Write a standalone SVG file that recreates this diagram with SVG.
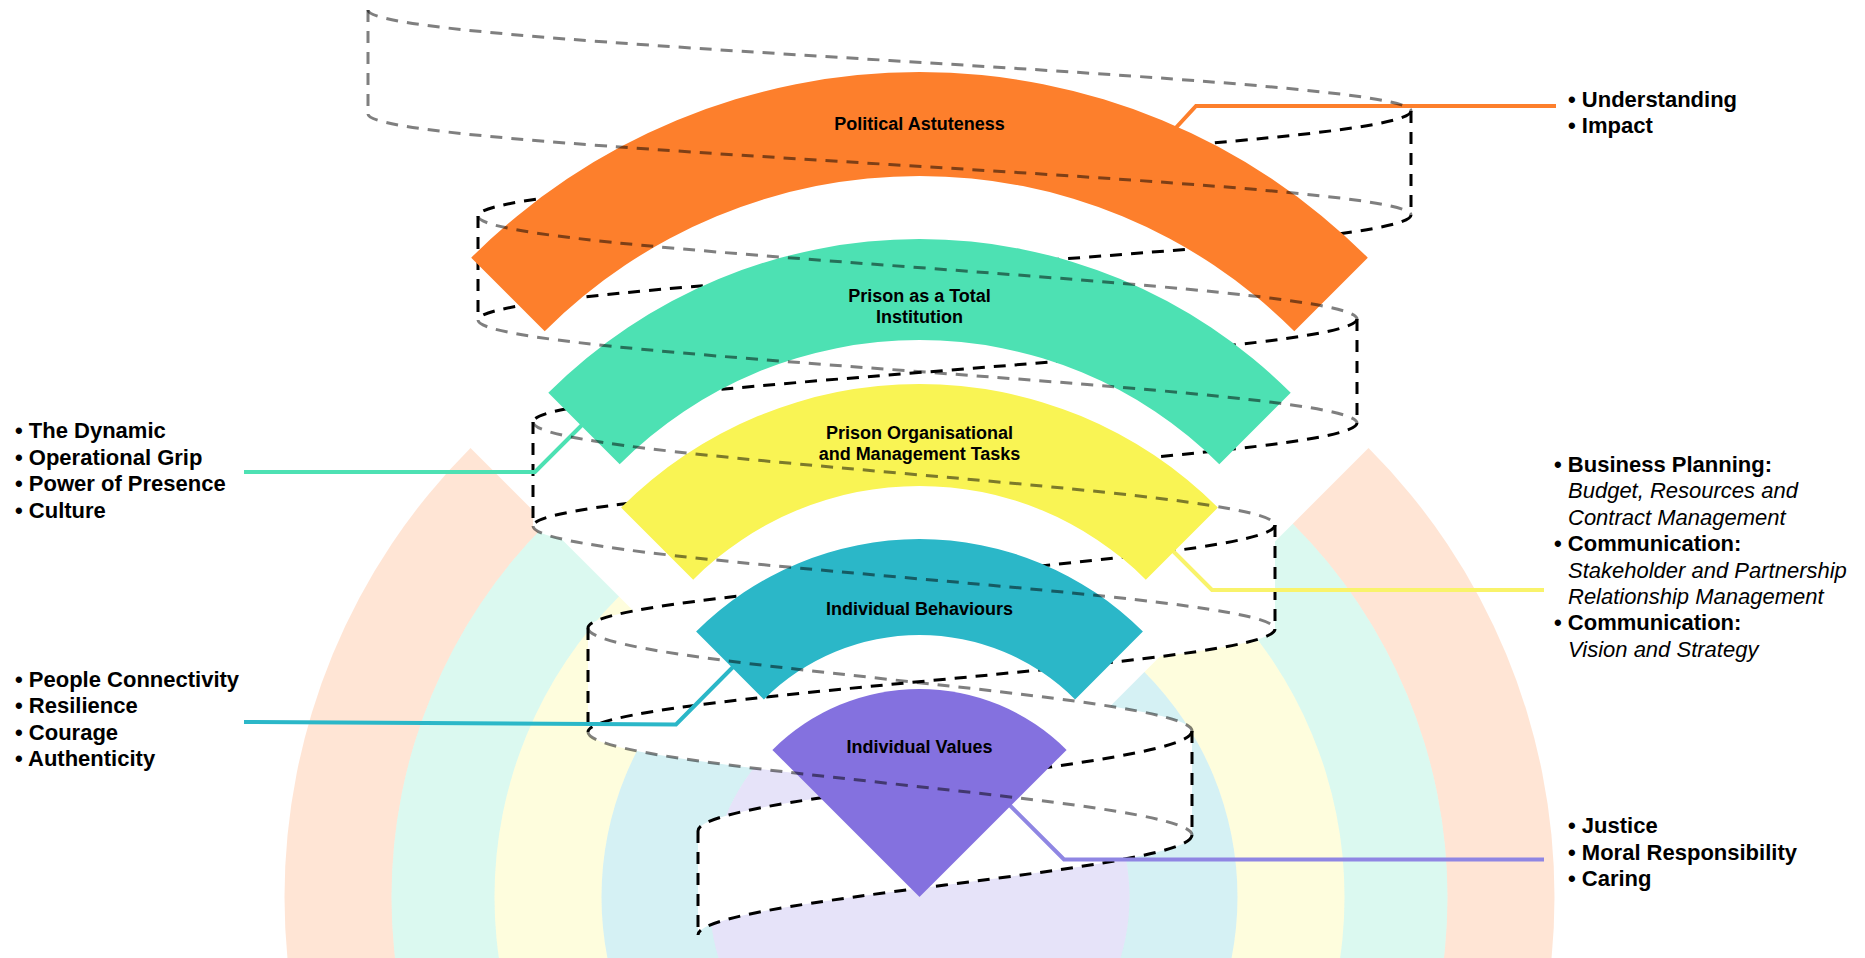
<svg xmlns="http://www.w3.org/2000/svg" width="1865" height="958" viewBox="0 0 1865 958">
<style>
.bg{fill-opacity:0.2}
.strip{fill:#ffffff}
.front{fill:none;stroke:#000;stroke-width:3;stroke-dasharray:12 9}
.back{fill:none;stroke:#000;stroke-opacity:0.5;stroke-width:3;stroke-dasharray:12 9}
.conn{fill:none;stroke-width:4}
.lbl{font-family:"Liberation Sans",Arial,sans-serif;font-weight:bold;font-size:18px;text-anchor:middle;fill:#000}
.side{font-family:"Liberation Sans",Arial,sans-serif;font-size:22px;fill:#000}
.b{font-weight:bold}
.i{font-style:italic}
.c-or{fill:#FD7F2C}.c-gr{fill:#4DE1B3}.c-ye{fill:#F9F454}.c-te{fill:#2BB7C8}.c-pu{fill:#8471DF}
</style>
<rect width="1865" height="958" fill="#ffffff"/>
<g id="background">
<path class="bg c-or" d="M1368.5,448 A635,635 0 1 1 470.5,448 L546.2,523.7 A528,528 0 1 0 1292.8,523.7 Z"/>
<path class="bg c-gr" d="M1292.8,523.7 A528,528 0 1 1 546.2,523.7 L619,596.5 A425,425 0 1 0 1220,596.5 Z"/>
<path class="bg c-ye" d="M1220,596.5 A425,425 0 1 1 619,596.5 L694.6,672.1 A318,318 0 1 0 1144.4,672.1 Z"/>
<path class="bg c-te" d="M1144.4,672.1 A318,318 0 1 1 694.6,672.1 L771,748.5 A210,210 0 1 0 1068,748.5 Z"/>
<path class="bg c-pu" d="M919.5,897 L1068,748.5 A210,210 0 0 1 1068,1045.5 Z"/>
<path class="bg c-pu" d="M919.5,897 L1068,1045.5 A210,210 0 0 1 771,1045.5 Z"/>
<path class="bg c-pu" d="M919.5,897 L771,1045.5 A210,210 0 0 1 771,748.5 Z"/>
</g>
<g id="helix-fill">
<path class="strip" d="M368,10 C368,28.3 622.3,44 889.5,60.5 C1156.7,77 1411,92.7 1411,111 L1411,215 C1411,196.7 1156.7,181 889.5,164.5 C622.3,148 368,132.3 368,114 Z"/>
<path class="strip" d="M1411,111 C1411,130 1183.5,146.4 944.5,163.5 C705.5,180.6 478,197 478,216 L478,320 C478,301 705.5,284.6 944.5,267.5 C1183.5,250.4 1411,234 1411,215 Z"/>
<path class="strip" d="M478,216 C478,234.6 692.3,250.7 917.5,267.5 C1142.7,284.3 1357,300.4 1357,319 L1357,423 C1357,404.4 1142.7,388.3 917.5,371.5 C692.3,354.7 478,338.6 478,320 Z"/>
<path class="strip" d="M1357,319 C1357,337.6 1156.1,353.7 945,370.5 C733.9,387.3 533,403.4 533,422 L533,526 C533,507.4 733.9,491.3 945,474.5 C1156.1,457.7 1357,441.6 1357,423 Z"/>
<path class="strip" d="M533,422 C533,440.6 713.9,456.7 904,473.5 C1094.1,490.3 1275,506.4 1275,525 L1275,629 C1275,610.4 1094.1,594.3 904,577.5 C713.9,560.7 533,544.6 533,526 Z"/>
<path class="strip" d="M1275,525 C1275,543.6 1107.5,559.7 931.5,576.5 C755.5,593.3 588,609.4 588,628 L588,732 C588,713.4 755.5,697.3 931.5,680.5 C1107.5,663.7 1275,647.6 1275,629 Z"/>
<path class="strip" d="M588,628 C588,646.6 735.3,662.7 890,679.5 C1044.7,696.3 1192,712.4 1192,731 L1192,835 C1192,816.4 1044.7,800.3 890,783.5 C735.3,766.7 588,750.6 588,732 Z"/>
<path class="strip" d="M1192,731 C1192,749.1 1071.5,764.7 945,781 C818.5,797.3 698,812.9 698,831 L698,935 C698,916.9 818.5,901.3 945,885 C1071.5,868.7 1192,853.1 1192,835 Z"/>
</g>
<g id="helix-front">
<path class="front" d="M1411,111 C1411,130 1183.5,146.4 944.5,163.5 C705.5,180.6 478,197 478,216"/>
<path class="front" d="M1411,215 C1411,234 1183.5,250.4 944.5,267.5 C705.5,284.6 478,301 478,320"/>
<path class="front" d="M1357,319 C1357,337.6 1156.1,353.7 945,370.5 C733.9,387.3 533,403.4 533,422"/>
<path class="front" d="M1357,423 C1357,441.6 1156.1,457.7 945,474.5 C733.9,491.3 533,507.4 533,526"/>
<path class="front" d="M1275,525 C1275,543.6 1107.5,559.7 931.5,576.5 C755.5,593.3 588,609.4 588,628"/>
<path class="front" d="M1275,629 C1275,647.6 1107.5,663.7 931.5,680.5 C755.5,697.3 588,713.4 588,732"/>
<path class="front" d="M1192,731 C1192,749.1 1071.5,764.7 945,781 C818.5,797.3 698,812.9 698,831"/>
<path class="front" d="M1192,835 C1192,853.1 1071.5,868.7 945,885 C818.5,901.3 698,916.9 698,935"/>
<path class="front" d="M1411,111 V215 M478,216 V320 M1357,319 V423 M533,422 V526 M1275,525 V629 M588,628 V732 M1192,731 V835 M698,831 V935"/>
</g>
<g id="connectors">
<path class="conn" stroke="#FD7F2C" d="M1556,106 L1196,106 L1172,132"/>
<path class="conn" stroke="#4DE1B3" d="M244,472 L535,472 L586,421"/>
<path class="conn" stroke="#F9F36B" d="M1544,590 L1212,590 L1168,546"/>
<path class="conn" stroke="#2BB7C8" d="M244,722 L676,724.5 L734,666"/>
<path class="conn" stroke="#8F86E3" d="M1544,859.5 L1064,859.5 L1000,795.5"/>
</g>
<g id="node-political-astuteness">
<path class="c-or" d="M471.2,257.7 A634,634 0 0 1 1367.8,257.7 L1294.3,331.2 A530,530 0 0 0 544.7,331.2 Z"/>
<text class="lbl" x="919.5" y="130">Political Astuteness</text>
<text class="side b" x="1568" y="106.7">• Understanding</text>
<text class="side b" x="1568" y="133.1">• Impact</text>
</g>
<g id="node-total-institution">
<path class="c-gr" d="M548.3,392.8 A525,525 0 0 1 1290.7,392.8 L1219.3,464.2 A424,424 0 0 0 619.7,464.2 Z"/>
<text class="lbl" x="919.5" y="302">Prison as a Total</text>
<text class="lbl" x="919.5" y="323">Institution</text>
<text class="side b" x="15" y="438.3">• The Dynamic</text>
<text class="side b" x="15" y="464.7">• Operational Grip</text>
<text class="side b" x="15" y="491.1">• Power of Presence</text>
<text class="side b" x="15" y="517.5">• Culture</text>
</g>
<g id="node-organisational-tasks">
<path class="c-ye" d="M621.1,507.6 A422,422 0 0 1 1217.9,507.6 L1145.8,579.7 A320,320 0 0 0 693.2,579.7 Z"/>
<text class="lbl" x="919.5" y="438.5">Prison Organisational</text>
<text class="lbl" x="919.5" y="460">and Management Tasks</text>
<text class="side b" x="1554" y="472">• Business Planning:</text>
<text class="side i" x="1568" y="498.4">Budget, Resources and</text>
<text class="side i" x="1568" y="524.8">Contract Management</text>
<text class="side b" x="1554" y="551.2">• Communication:</text>
<text class="side i" x="1568" y="577.6">Stakeholder and Partnership</text>
<text class="side i" x="1568" y="604">Relationship Management</text>
<text class="side b" x="1554" y="630.4">• Communication:</text>
<text class="side i" x="1568" y="656.8">Vision and Strategy</text>
</g>
<g id="node-individual-behaviours">
<path class="c-te" d="M696.1,631.6 A316,316 0 0 1 1142.9,631.6 L1075.1,699.4 A220,220 0 0 0 763.9,699.4 Z"/>
<text class="lbl" x="919.5" y="614.5">Individual Behaviours</text>
<text class="side b" x="15" y="686.7">• People Connectivity</text>
<text class="side b" x="15" y="713.1">• Resilience</text>
<text class="side b" x="15" y="739.5">• Courage</text>
<text class="side b" x="15" y="765.9">• Authenticity</text>
</g>
<g id="node-individual-values">
<path class="c-pu" d="M919.5,897 L772.4,749.9 A208,208 0 0 1 1066.6,749.9 Z"/>
<text class="lbl" x="919.5" y="753">Individual Values</text>
<text class="side b" x="1568" y="833.3">• Justice</text>
<text class="side b" x="1568" y="859.7">• Moral Responsibility</text>
<text class="side b" x="1568" y="886.1">• Caring</text>
</g>
<g id="helix-back">
<path class="back" d="M368,10 V114"/>
<path class="back" d="M368,10 C368,28.3 622.3,44 889.5,60.5 C1156.7,77 1411,92.7 1411,111"/>
<path class="back" d="M368,114 C368,132.3 622.3,148 889.5,164.5 C1156.7,181 1411,196.7 1411,215"/>
<path class="back" d="M478,216 C478,234.6 692.3,250.7 917.5,267.5 C1142.7,284.3 1357,300.4 1357,319"/>
<path class="back" d="M478,320 C478,338.6 692.3,354.7 917.5,371.5 C1142.7,388.3 1357,404.4 1357,423"/>
<path class="back" d="M533,422 C533,440.6 713.9,456.7 904,473.5 C1094.1,490.3 1275,506.4 1275,525"/>
<path class="back" d="M533,526 C533,544.6 713.9,560.7 904,577.5 C1094.1,594.3 1275,610.4 1275,629"/>
<path class="back" d="M588,628 C588,646.6 735.3,662.7 890,679.5 C1044.7,696.3 1192,712.4 1192,731"/>
<path class="back" d="M588,732 C588,750.6 735.3,766.7 890,783.5 C1044.7,800.3 1192,816.4 1192,835"/>
</g>
</svg>
